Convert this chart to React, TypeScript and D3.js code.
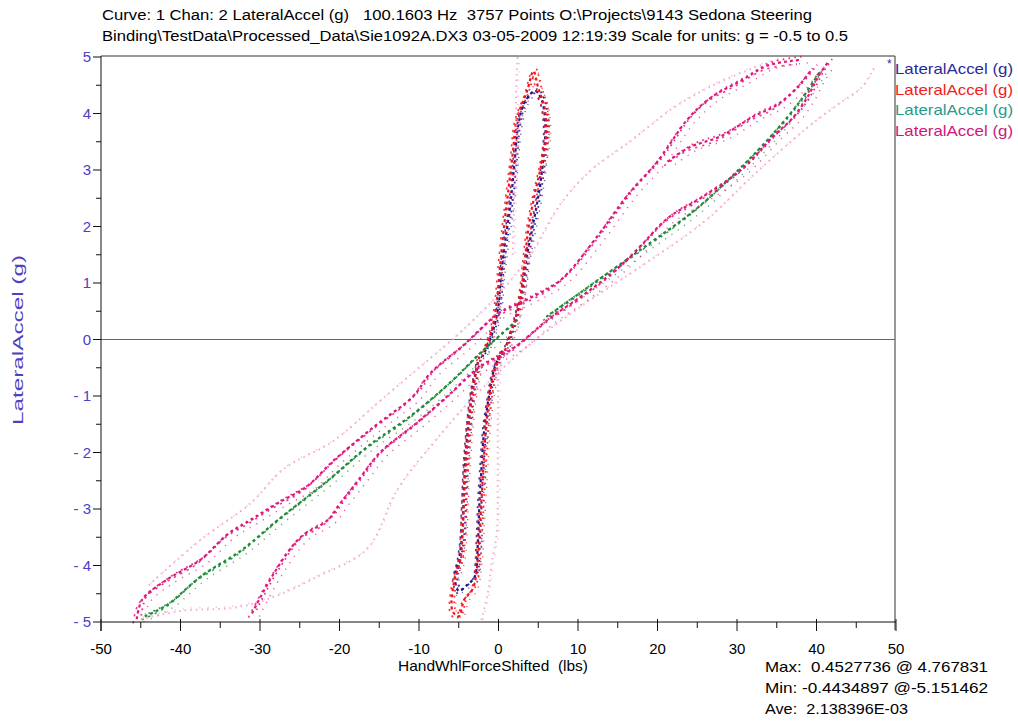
import React from "react";
import * as d3 from "d3";

type Pt = [number, number];

const W = 1018;
const H = 723;
const FONT = "'Liberation Sans', Arial, sans-serif";

const TITLE_1 = "Curve: 1 Chan: 2 LateralAccel (g)   100.1603 Hz  3757 Points O:\\Projects\\9143 Sedona Steering";
const TITLE_2 = "Binding\\TestData\\Processed_Data\\Sie1092A.DX3 03-05-2009 12:19:39 Scale for units: g = -0.5 to 0.5";
const X_LABEL = "HandWhlForceShifted  (lbs)";
const Y_LABEL = "LateralAccel (g)";
const LEGEND = ["LateralAccel (g)", "LateralAccel (g)", "LateralAccel (g)", "LateralAccel (g)"];
const STATS = ["Max:  0.4527736 @ 4.767831", "Min: -0.4434897 @-5.151462", "Ave:  2.138396E-03"];

const X_TICKS = [-50, -40, -30, -20, -10, 0, 10, 20, 30, 40, 50];
const Y_TICKS = [5, 4, 3, 2, 1, 0, -1, -2, -3, -4, -5];

// series 1 (navy) – narrow loop around the origin
const navyUpper: Pt[] = [
  [1.0, -0.1], [2.2, 0.4], [3.0, 0.9], [3.6, 1.5], [4.3, 2.0], [5.2, 2.7], [5.7, 3.3], [5.9, 3.8],
  [5.4, 4.25], [4.6, 4.4], [3.3, 4.2], [2.5, 3.8], [2.0, 3.1], [1.5, 2.4], [0.8, 1.7], [0.3, 1.1],
  [0.0, 0.6], [-0.8, 0.1], [-2.0, -0.3],
];
const navyLower: Pt[] = [
  [-2.6, -0.4], [-3.3, -0.9], [-3.8, -1.5], [-4.2, -2.2], [-4.4, -2.9], [-4.6, -3.5], [-5.0, -3.9],
  [-5.5, -4.2], [-5.0, -4.45], [-4.0, -4.35], [-3.0, -4.2], [-2.6, -3.6], [-2.4, -2.9], [-2.1, -2.2],
  [-1.8, -1.6], [-1.2, -1.0], [-0.5, -0.5], [0.5, -0.2],
];

// series 2 (red)
const redUpper: Pt[] = [
  [0.8, -0.2], [2.0, 0.3], [2.8, 0.8], [3.3, 1.4], [3.8, 2.0], [4.6, 2.6], [5.4, 3.1], [6.0, 3.6],
  [5.8, 4.1], [5.0, 4.45], [4.4, 4.75], [3.6, 4.4], [2.3, 3.9], [1.8, 3.3], [1.2, 2.6], [0.7, 2.0],
  [0.2, 1.3], [-0.2, 0.7], [-0.8, 0.2], [-1.8, -0.2],
];
const redLower: Pt[] = [
  [-2.4, -0.3], [-3.1, -0.8], [-3.6, -1.3], [-4.0, -2.0], [-4.3, -2.7], [-4.5, -3.4], [-4.8, -3.9],
  [-5.6, -4.3], [-5.8, -4.8], [-5.0, -4.9], [-4.3, -4.6], [-3.2, -4.4], [-2.6, -3.9], [-2.3, -3.2],
  [-2.0, -2.5], [-1.7, -1.8], [-1.3, -1.2], [-0.6, -0.6], [0.3, -0.2],
];

// series 3 (green) – inner strands of the wide band
const greenLeft: Pt[] = [
  [-44.5, -4.9], [-41.7, -4.7], [-37.5, -4.2], [-32.5, -3.75], [-27.8, -3.2], [-21.5, -2.5],
  [-16.5, -1.9], [-11.0, -1.35], [-6.0, -0.75], [-2.0, -0.2], [2.0, 0.3],
];
const greenRight: Pt[] = [
  [6.0, 0.4], [12.0, 1.0], [18.3, 1.63], [24.6, 2.28], [30.1, 2.99], [34.6, 3.65], [38.0, 4.23], [40.5, 4.76],
];

// series 4 (magenta) – wide hysteresis band
const magentaLeft: Pt[] = [
  [-45.5, -4.95], [-44.8, -4.6], [-41.7, -4.25], [-37.5, -3.9], [-34.1, -3.45], [-31.2, -3.2],
  [-27.8, -2.9], [-24.1, -2.6], [-20.8, -2.15], [-15.7, -1.55], [-10.7, -1.0], [-8.6, -0.6],
  [-4.4, -0.1], [-0.1, 0.45], [3.5, 0.7], [7.8, 1.05], [12.3, 1.8], [16.5, 2.6], [20.0, 3.15],
  [23.8, 3.9], [26.7, 4.28], [30.5, 4.58], [33.9, 4.85], [38.0, 4.95],
];
const magentaRight: Pt[] = [
  [-31.0, -4.85], [-28.3, -4.15], [-24.9, -3.5], [-21.5, -3.2], [-19.9, -2.9], [-17.4, -2.45],
  [-14.9, -2.0], [-10.5, -1.5], [-6.4, -1.0], [-2.5, -0.5], [1.9, -0.15], [6.2, 0.35], [10.3, 0.75],
  [14.5, 1.2], [17.5, 1.6], [21.3, 2.15], [25.4, 2.5], [30.5, 3.0], [34.6, 3.6], [37.2, 3.95],
  [38.9, 4.3], [40.2, 4.65], [41.4, 4.9],
];
const magentaInner: Pt[] = [
  [21.3, 3.15], [24.0, 3.4], [28.0, 3.6], [32.1, 3.95], [35.0, 4.15], [37.5, 4.45], [39.5, 4.8],
];
const paleLower: Pt[] = [
  [-45.0, -4.95], [-39.7, -4.8], [-33.4, -4.75], [-29.1, -4.6], [-22.8, -4.2], [-16.5, -3.7],
  [-12.7, -2.65], [-8.0, -1.8], [-3.0, -1.0], [3.0, -0.2], [10.0, 0.55], [18.0, 1.3], [26.0, 2.1],
  [32.0, 2.9], [38.0, 3.65], [40.2, 3.9], [43.1, 4.2], [45.6, 4.45], [47.2, 4.8],
];
const paleUpper: Pt[] = [
  [-44.0, -4.35], [-37.5, -3.55], [-31.2, -2.9], [-27.1, -2.3], [-20.8, -1.8], [-15.0, -1.1],
  [-10.0, -0.5], [-5.0, 0.1], [0.0, 0.8], [4.0, 1.5], [7.8, 2.4], [11.6, 2.99], [16.5, 3.5],
  [22.0, 4.1], [27.0, 4.5], [32.0, 4.8], [35.0, 4.95],
];
const paleVertLower: Pt[] = [
  [0.0, -0.5], [-0.1, -1.5], [-0.1, -2.5], [-0.2, -3.4], [-0.9, -4.0], [-1.3, -4.45], [-2.2, -5.0],
];
const paleVertUpper: Pt[] = [
  [1.8, 1.5], [2.0, 2.5], [2.3, 3.5], [2.2, 4.3], [2.4, 5.0],
];

const COLORS = ["#1d1a8f", "#f0141e", "#1f8a3a", "#e0177a"];
const PALE = "#f39bc9";
const LEGEND_COLORS = ["#2b2a9a", "#ef1d1d", "#2a9a8a", "#d0167a"];

// spread = how far the scatter passes sit from the trace, in px
const SERIES = [
  { color: COLORS[0], spread: 1.5, dense: [navyUpper, navyLower], sparse: [] as Pt[][] },
  { color: COLORS[1], spread: 1.8, dense: [redUpper, redLower], sparse: [] as Pt[][] },
  { color: COLORS[2], spread: 2.5, dense: [greenLeft, greenRight], sparse: [] as Pt[][] },
  { color: COLORS[3], spread: 3, dense: [magentaLeft, magentaRight, magentaInner], sparse: [paleLower, paleUpper, paleVertLower, paleVertUpper] },
];

const PASSES = [
  { dx: 0, dy: 0, w: 2.2, dash: "3 3", op: 1 },
  { dx: 1.5, dy: -1.2, w: 1.8, dash: "1.6 4.2", op: 0.9 },
  { dx: -1.2, dy: 1.4, w: 1.6, dash: "2.2 5", op: 0.85 },
  { dx: 2.4, dy: 1.0, w: 1.4, dash: "1.2 6.5", op: 0.7 },
];

const x = d3.scaleLinear().domain([-50, 50]).range([101, 896]);
const y = d3.scaleLinear().domain([-5, 5]).range([622, 57]);

const line = d3
  .line<Pt>()
  .x(d => x(d[0]))
  .y(d => y(d[1]))
  .curve(d3.curveCatmullRom.alpha(0.5));

const yFmt = (v: number) => (v < 0 ? `- ${Math.abs(v)}` : `${v}`);
const pre = { whiteSpace: "pre" as const };

export default function App() {
  const xMinor = d3.range(-45, 50, 10);
  const yMinor = d3.range(-4.5, 5, 1);
  return (
    <svg width={W} height={H} style={{ position: "absolute", left: 0, top: 0, background: "#fff" }} fontFamily={FONT}>
      <text x={102} y={20} fontSize={14} style={pre} textLength={710} lengthAdjust="spacingAndGlyphs">{TITLE_1}</text>
      <text x={102} y={41} fontSize={14} style={pre} textLength={746} lengthAdjust="spacingAndGlyphs">{TITLE_2}</text>

      {/* frame and zero line */}
      <line x1={101} x2={895} y1={56} y2={56} stroke="#333" />
      <line x1={895} x2={895} y1={56} y2={630} stroke="#333" />
      <line x1={101} x2={895} y1={y(0)} y2={y(0)} stroke="#666" />

      {/* data */}
      {SERIES.map((s, i) => (
        <g key={i}>
          {s.sparse.map((pts, j) => (
            <g key={"s" + j}>
              <path d={line(pts) || ""} fill="none" stroke={PALE} strokeWidth={2}
                strokeDasharray="1.6 4" opacity={0.8} />
              <path d={line(pts) || ""} fill="none" stroke={PALE} strokeWidth={1.6}
                strokeDasharray="1.2 7" opacity={0.6} transform="translate(2,-2)" />
            </g>
          ))}
          {s.dense.map((pts, j) => (
            <g key={"d" + j}>
              {PASSES.map((p, k) => (
                <path key={k} d={line(pts) || ""} fill="none" stroke={s.color} strokeWidth={p.w}
                  strokeDasharray={p.dash} opacity={p.op}
                  transform={`translate(${p.dx * s.spread},${p.dy * s.spread})`} />
              ))}
            </g>
          ))}
        </g>
      ))}

      {/* x axis */}
      <line x1={101} x2={896} y1={622} y2={622} stroke="#111" />
      {X_TICKS.map(t => (
        <g key={t}>
          <line x1={x(t)} x2={x(t)} y1={619} y2={631} stroke="#111" />
          <text x={x(t)} y={654} fontSize={15} textAnchor="middle">{t}</text>
        </g>
      ))}
      {xMinor.map(t => (
        <line key={t} x1={x(t)} x2={x(t)} y1={622} y2={628} stroke="#111" />
      ))}
      <text x={398} y={671} fontSize={15} style={pre} textLength={190} lengthAdjust="spacingAndGlyphs">{X_LABEL}</text>

      {/* y axis */}
      <line x1={101} x2={101} y1={56} y2={631} stroke="#111" />
      {Y_TICKS.map(t => (
        <g key={t}>
          <line x1={93} x2={101} y1={y(t)} y2={y(t)} stroke="#111" />
          <text x={91} y={y(t) + 5} fontSize={15} textAnchor="end" fill="#4b40c8" style={pre}>{yFmt(t)}</text>
        </g>
      ))}
      {yMinor.map(t => (
        <line key={t} x1={96} x2={101} y1={y(t)} y2={y(t)} stroke="#111" />
      ))}
      <text transform="translate(23,425) rotate(-90)" fontSize={14} fill="#5040c0" textLength={170}
        lengthAdjust="spacingAndGlyphs">{Y_LABEL}</text>

      {/* legend */}
      <text x={887} y={68} fontSize={12} fill={LEGEND_COLORS[0]}>*</text>
      {LEGEND.map((l, i) => (
        <text key={i} x={895} y={74 + i * 20.5} fontSize={15} fill={LEGEND_COLORS[i]} textLength={118}
          lengthAdjust="spacingAndGlyphs">{l}</text>
      ))}

      {/* stats */}
      <text x={765} y={672} fontSize={15} style={pre} textLength={223} lengthAdjust="spacingAndGlyphs">{STATS[0]}</text>
      <text x={765} y={693} fontSize={15} style={pre} textLength={223} lengthAdjust="spacingAndGlyphs">{STATS[1]}</text>
      <text x={765} y={714} fontSize={15} style={pre} textLength={143} lengthAdjust="spacingAndGlyphs">{STATS[2]}</text>
    </svg>
  );
}
